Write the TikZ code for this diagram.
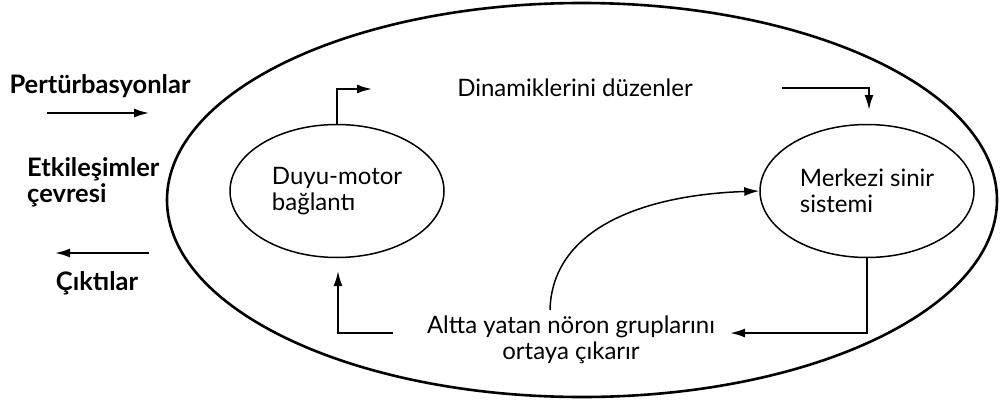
\documentclass[tikz,border=0pt]{standalone}
\usepackage{fontspec}
\setmainfont{Lato}
\usetikzlibrary{shapes.geometric,arrows.meta}
\begin{document}
\begin{tikzpicture}[x=1pt,y=-1pt,
  bigell/.style={ellipse,draw,line width=2.6pt,inner sep=0pt},
  smallell/.style={ellipse,draw,line width=1.5pt,inner sep=0pt,align=left,font=\fontsize{24}{26}\selectfont},
  arr/.style={line width=2pt,-{Latex[length=15pt,width=9pt]}},
  lbl/.style={font=\fontsize{24}{26}\selectfont,inner sep=0pt},
  blbl/.style={font=\bfseries\fontsize{25.5}{26}\selectfont,inner sep=0pt,align=left}]
\useasboundingbox (0,0) rectangle (1000,404);
\node[bigell,minimum width=830,minimum height=394] (env) at (582,200) {};
\node[smallell,minimum width=214,minimum height=133] (dm) at (337,191) {Duyu-motor\\bağlantı};
\node[smallell,minimum width=214,minimum height=133] (ms) at (867,191) {Merkezi sinir\\sistemi};
\node[lbl] (dyn) at (575,88) {Dinamiklerini düzenler};
\node[lbl,align=center] (alt) at (571,340) {Altta yatan nöron gruplarını\\ortaya çıkarır};
\node[blbl] (pert) at (100,86) {Pertürbasyonlar};
\node[blbl,anchor=west] (etk) at (27,182) {Etkileşimler\\çevresi};
\node[blbl] (cik) at (97,283) {Çıktılar};
\coordinate (pa) at (47,113);
\coordinate (pb) at (149,113);
\coordinate (ca) at (149,253);
\coordinate (cb) at (55,253);
\draw[arr] (pa) -- (pb);
\draw[arr] (ca) -- (cb);
% top left
\coordinate (tl) at (372,89);
\draw[arr] (dm.north) -- (dm.north |- tl) -- (tl);
% top right
\coordinate (tra) at (782,88);
\coordinate (trb) at (869,110);
\draw[arr] (tra) -- (trb |- tra) -- (trb);
% bottom right
\coordinate (bre) at (730,333);
\draw[arr] (ms.south) -- (ms.south |- bre) -- (bre);
% bottom left
\coordinate (bls) at (393,333);
\coordinate (ble) at (338,271);
\draw[arr] (bls) -- (ble |- bls) -- (ble);
% curve
\coordinate (cs) at (550,310);
\draw[line width=1.5pt,-{Latex[length=15pt,width=9pt]}] (cs) .. controls (552,230) and (640,195) .. (ms.west);
\end{tikzpicture}
\end{document}
